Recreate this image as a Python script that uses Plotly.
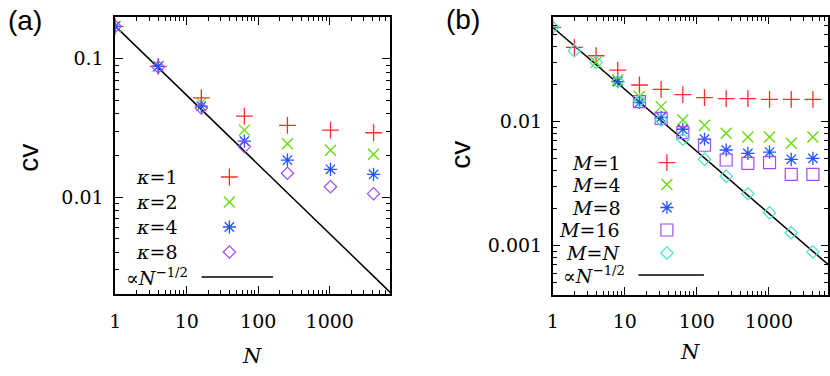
import numpy as np
import plotly.graph_objects as go

# ---------------- data ----------------
N_a = [1, 4, 16, 64, 256, 1024, 4096]
cv_k1 = [0.171, 0.088, 0.0521, 0.0385, 0.0330, 0.0305, 0.0292]
cv_k2 = [0.171, 0.088, 0.0480, 0.0305, 0.0243, 0.0218, 0.0204]
cv_k4 = [0.171, 0.088, 0.0454, 0.0254, 0.0185, 0.0159, 0.0146]
cv_k8 = [0.171, 0.087, 0.0440, 0.0232, 0.0149, 0.0119, 0.0106]

N_b = [1, 2, 4, 8, 16, 32, 64, 128, 256, 512, 1024, 2048, 4096]
cv_M1 = [0.0575, 0.0396, 0.0339, 0.0260, 0.0197, 0.0182, 0.0165, 0.0156, 0.0153, 0.0153, 0.0151, 0.0151, 0.0151]
N_M4 = [4, 8, 16, 32, 64, 128, 256, 512, 1024, 2048, 4096]
cv_M4 = [0.0300, 0.0216, 0.0159, 0.0132, 0.0103, 0.00933, 0.00804, 0.0075, 0.0075, 0.00668, 0.0075]
N_M8 = [8, 16, 32, 64, 128, 256, 512, 1024, 2048, 4096]
cv_M8 = [0.0210, 0.01425, 0.0108, 0.00867, 0.0072, 0.0059, 0.00554, 0.00568, 0.00496, 0.00505]
N_M16 = [16, 32, 64, 128, 256, 512, 1024, 2048, 4096]
cv_M16 = [0.0145, 0.0106, 0.00815, 0.00644, 0.0049, 0.0046, 0.00466, 0.00375, 0.00375]
cv_MN = [0.0575, 0.0372, 0.0300, 0.0210, 0.0147, 0.0103, 0.0072, 0.00496, 0.00363, 0.00262, 0.00184, 0.00127, 0.00089]

coef_a = 0.172
coef_b = 0.0575
N_line = [1, 7000]

x_tickvals = [1, 10, 100, 1000]
x_ticktext = ["1", "10", "100", "1000"]
ya_tickvals = [0.1, 0.01]
ya_ticktext = ["0.1", "0.01"]
yb_tickvals = [0.01, 0.001]
yb_ticktext = ["0.01", "0.001"]

labels_a = ["<i>κ</i>=1", "<i>κ</i>=2", "<i>κ</i>=4", "<i>κ</i>=8"]
labels_b = ["<i>M</i>=1", "<i>M</i>=4", "<i>M</i>=8", "<i>M</i>=16", "<i>M</i>=<i>N</i>"]
line_label = "∝<i>N</i><sup>−1/2</sup>"

# ---------------- styles ----------------
W, H = 830, 376
RED = "#ff2a2a"
GREEN = "#62dc00"
BLUE = "#2456ff"
PURPLE = "#a24cf0"
CYAN = "#45e6c6"
SERIF = "DejaVu Serif"
SANS = "Liberation Sans"

sty = {
    "plus": dict(symbol="cross-thin", size=12, line=dict(width=1.3, color=RED), color=RED),
    "x": dict(symbol="x-thin", size=11, line=dict(width=1.3, color=GREEN), color=GREEN),
    "ast": dict(symbol="asterisk", size=11, line=dict(width=1.3, color=BLUE), color=BLUE),
    "dia": dict(symbol="diamond-open", size=9.5, line=dict(width=1.2, color=PURPLE), color=PURPLE),
    "sq": dict(symbol="square-open", size=12, line=dict(width=1.2, color=PURPLE), color=PURPLE),
    "diac": dict(symbol="diamond-open", size=9.5, line=dict(width=1.2, color=CYAN), color=CYAN),
}

def px2dom(a, b, total):
    return [a / total, b / total]

fig = go.Figure()

def mk(x, y, st, xa, ya):
    fig.add_trace(go.Scatter(x=x, y=y, mode="markers", marker=sty[st], xaxis=xa, yaxis=ya,
                             showlegend=False, hoverinfo="skip"))

fig.add_trace(go.Scatter(x=N_line, y=[coef_a * n ** -0.5 for n in N_line], mode="lines",
                         line=dict(color="black", width=1.5), xaxis="x", yaxis="y", showlegend=False))
mk(N_a, cv_k1, "plus", "x", "y")
mk(N_a, cv_k2, "x", "x", "y")
mk(N_a, cv_k4, "ast", "x", "y")
mk(N_a, cv_k8, "dia", "x", "y")

fig.add_trace(go.Scatter(x=N_line, y=[coef_b * n ** -0.5 for n in N_line], mode="lines",
                         line=dict(color="black", width=1.5), xaxis="x2", yaxis="y2", showlegend=False))
mk(N_b, cv_M1, "plus", "x2", "y2")
mk(N_M4, cv_M4, "x", "x2", "y2")
mk(N_M8, cv_M8, "ast", "x2", "y2")
mk(N_M16, cv_M16, "sq", "x2", "y2")
mk(N_b, cv_MN, "diac", "x2", "y2")

leg_a_rows = [177, 202, 227, 252]
for st, yy in zip(["plus", "x", "ast", "dia"], leg_a_rows):
    fig.add_trace(go.Scatter(x=[225], y=[yy], mode="markers", marker=sty[st], xaxis="x3", yaxis="y3",
                             showlegend=False, hoverinfo="skip"))
leg_b_rows = [162.7, 184.5, 207.5, 230, 253]
for st, yy in zip(["plus", "x", "ast", "sq", "diac"], leg_b_rows):
    fig.add_trace(go.Scatter(x=[665.7], y=[yy], mode="markers", marker=sty[st], xaxis="x3", yaxis="y3",
                             showlegend=False, hoverinfo="skip"))
fig.add_trace(go.Scatter(x=[197, 269], y=[277, 277], mode="lines", line=dict(color="black", width=1.5),
                         xaxis="x3", yaxis="y3", showlegend=False, hoverinfo="skip"))
fig.add_trace(go.Scatter(x=[637, 703], y=[275, 275], mode="lines", line=dict(color="black", width=1.5),
                         xaxis="x3", yaxis="y3", showlegend=False, hoverinfo="skip"))

ann = []
def A(x, y, text, size, family, xanchor="center", angle=0, color="black"):
    ann.append(dict(x=x, y=y, xref="x3", yref="y3", text=text, showarrow=False, xanchor=xanchor,
                    yanchor="middle", textangle=angle, font=dict(size=size, family=family, color=color)))

for lab, yy in zip(labels_a, leg_a_rows):
    A(174, yy, lab, 19, SERIF, xanchor="right")
for lab, yy in zip(labels_b, leg_b_rows):
    A(620, yy, lab, 19, SERIF, xanchor="right")
A(152, 277, line_label, 19, SERIF)
A(592, 275, line_label, 19, SERIF)
A(19, 20, "(a)", 28, SANS)
A(460, 19, "(b)", 28, SANS)
A(22, 158, "cv", 28, SANS, angle=-90)
A(457, 155, "cv", 28, SANS, angle=-90)
A(248, 356, "<i>N</i>", 21, SERIF)
A(689, 352, "<i>N</i>", 21, SERIF)

def minor_vals(lo, hi):
    vals = []
    for d in range(lo, hi + 1):
        for m in range(2, 10):
            vals.append(m * 10.0 ** d)
    return vals

def logaxis(domain, rng, tv, tt, anchor, minv, standoff):
    return dict(type="log", domain=domain, range=rng, anchor=anchor,
                tickmode="array", tickvals=tv, ticktext=tt,
                ticks="inside", ticklen=8, tickwidth=1.3, tickcolor="black",
                showline=True, linecolor="black", linewidth=1.5, mirror="allticks",
                showgrid=False, zeroline=False, ticklabelstandoff=standoff,
                tickfont=dict(size=19, family=SERIF, color="black"),
                minor=dict(tickmode="array", tickvals=minv, ticks="inside", ticklen=4.5,
                           tickwidth=1.2, tickcolor="black", showgrid=False))

ax_a = px2dom(110, 387, W)
ay_a = [1 - 294 / H, 1 - 17 / H]
ax_b = px2dom(550.7, 828.3, W)
ay_b = [1 - 295 / H, 1 - 16.7 / H]

fig.update_layout(
    width=W, height=H, margin=dict(l=0, r=0, t=0, b=0),
    paper_bgcolor="white", plot_bgcolor="rgba(0,0,0,0)",
    xaxis=logaxis(ax_a, [0, np.log10(7000)], x_tickvals, x_ticktext, "y", minor_vals(0, 3), 9),
    yaxis=logaxis(ay_a, [np.log10(0.002), np.log10(0.2)], ya_tickvals, ya_ticktext, "x", minor_vals(-3, -1), 6),
    xaxis2=logaxis(ax_b, [0, np.log10(6700)], x_tickvals, x_ticktext, "y2", minor_vals(0, 3), 8),
    yaxis2=logaxis(ay_b, [np.log10(0.0004), np.log10(0.07)], yb_tickvals, yb_ticktext, "x2", minor_vals(-4, -2), 5),
    xaxis3=dict(domain=[0, 1], range=[0, W], visible=False, anchor="y3", fixedrange=True),
    yaxis3=dict(domain=[0, 1], range=[H, 0], visible=False, anchor="x3", fixedrange=True),
    annotations=ann,
    showlegend=False,
)

fig.write_html("out.html", config={"displayModeBar": False},
               post_script="document.body.style.margin='0px';document.body.style.overflow='hidden';")
